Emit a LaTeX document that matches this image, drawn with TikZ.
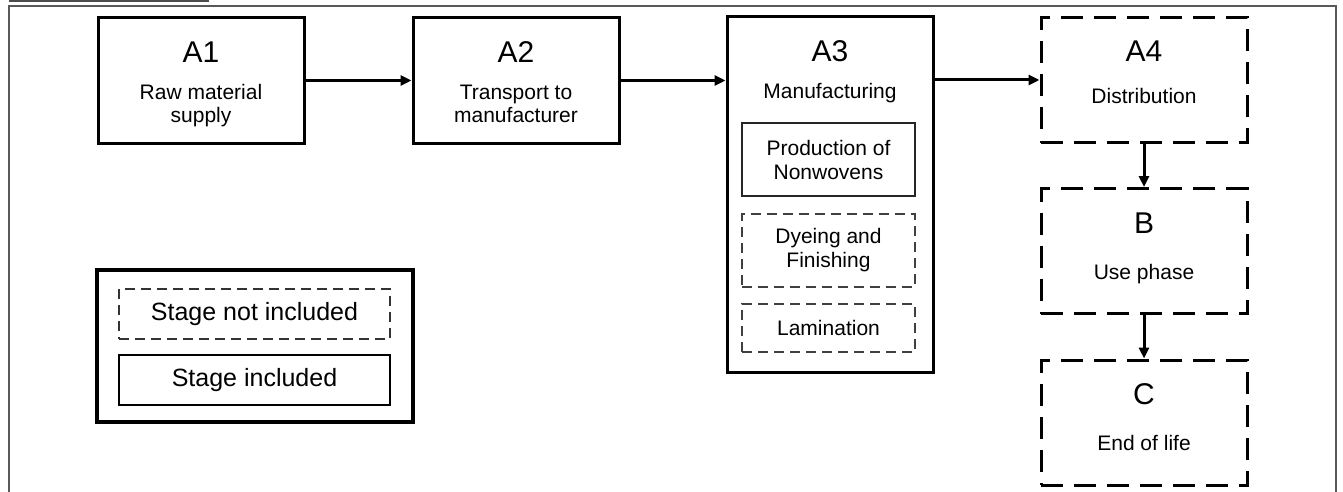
\documentclass[tikz,border=0pt]{standalone}
\usepackage{fontspec}
\setmainfont{Liberation Sans}
\usetikzlibrary{arrows.meta,calc,positioning}

\tikzset{
    stage/.style={draw, line width=3pt, minimum width=206pt, minimum height=125pt, inner sep=0pt},
    stageout/.style={stage, dash pattern=on 22pt off 11pt},
    substage/.style={draw=black!85, line width=1.4pt, minimum width=173pt, inner sep=0pt, align=center, font=\fontsize{21}{24}\selectfont},
    subout/.style={substage, draw=black!75, dash pattern=on 10pt off 6pt},
    keybox/.style={draw, line width=1.4pt, minimum width=271pt, minimum height=50pt, inner sep=0pt, font=\fontsize{25}{30}\selectfont},
    title/.style={anchor=base, inner sep=0pt, font=\fontsize{30}{36}\selectfont},
    sublabel/.style={anchor=base, align=center, inner sep=0pt, font=\fontsize{21}{23}\selectfont},
    flow/.style={line width=3pt, -{Triangle[length=11pt,width=10pt]}},
}

\begin{document}
\begin{tikzpicture}[x=1pt, y=-1pt]

\useasboundingbox (0,0) rectangle (1343,492);

% Frame and heading rule
\draw[black!70, line width=2pt] (9,1.5) -- (209,1.5);
\draw[black!65, line width=1.3pt] (9,492) -- (9,6) -- (1336,6) -- (1336,492);

% Stages
\node[stage] (A1) at (201,80.5) {};
\node[stage] (A2) at (516,80.5) {};
\node[stage, minimum height=355pt] (A3) at (830,194.5) {};
\node[stageout] (A4) at (1144,80) {};
\node[stageout] (B) at (1144,251) {};
\node[stageout] (C) at (1144,422.5) {};

% Titles
\foreach \s in {A1,A2,A3,A4,B,C} {
    \node[title] (\s t) at ($(\s.north)+(0,46)$) {\s};
}
% (base of a two-line label is its last line)
\node[sublabel] (A1s) at ($(A1.north)+(0,106)$) {Raw material\\supply};
\node[sublabel] (A2s) at ($(A2.north)+(0,106)$) {Transport to\\manufacturer};
\node[sublabel] (A3s) at ($(A3.north)+(0,83)$) {Manufacturing};
\node[sublabel] (A4s) at ($(A4.north)+(0,88)$) {Distribution};
\node[sublabel] (Bs) at ($(B.north)+(0,92)$) {Use phase};
\node[sublabel] (Cs) at ($(C.north)+(0,92)$) {End of life};

% Steps inside A3
\node[substage, minimum height=73pt] (prod) at (828.5,159.5) {Production of\\Nonwovens};
\node[subout, minimum height=73pt] (dye) at (828.5,250.5) {Dyeing and\\Finishing};
\node[subout, minimum height=48pt] (lam) at (828.5,328) {Lamination};

% Flows
\draw[flow] (A1) -- (A2);
\draw[flow] (A2.east) -- (A2.east -| A3.west);
\draw[flow] (A3.east |- A4) -- (A4.west);
\draw[flow] (A4) -- (B);
\draw[flow] (B) -- (C);

% Legend
\node[draw, line width=4pt, minimum width=316pt, minimum height=152pt] (key) at (255,346) {};
\node[keybox, draw=black!80, dash pattern=on 10pt off 6pt] (keyout) at (254.5,314) {Stage not included};
\node[keybox] (keyin) at (254.5,380) {Stage included};

\end{tikzpicture}
\end{document}
